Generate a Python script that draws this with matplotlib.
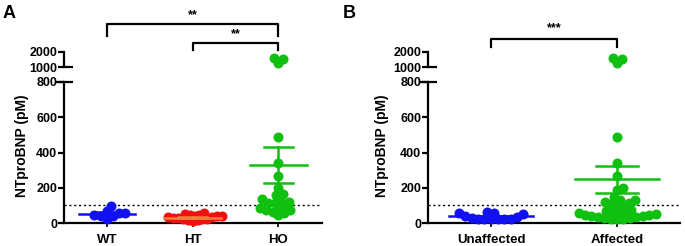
import numpy as np
import matplotlib
matplotlib.use('Agg')
import matplotlib.pyplot as plt
from matplotlib.transforms import blended_transform_factory

plt.rcParams['font.family'] = ['Liberation Sans', 'DejaVu Sans']
plt.rcParams['font.weight'] = 'bold'

# panel A data (NTproBNP, pM)
groups_a = ['WT', 'HT', 'HO']
wt_vals = [96, 68, 58, 55, 45, 40, 38, 25]
ht_vals = [58, 52, 48, 45, 42, 40, 38, 35, 32, 30, 28, 25, 22, 20, 18, 15, 12]
ho_vals = [490, 342, 268, 197, 160, 134, 74, 85, 165, 121, 83, 45, 130, 74,
           115, 58, 64, 113, 100]
ho_high = [1530, 1270, 1600]
mean_a = [52, 30, 329]
sem_a = [8, 4, 100]

# panel B data
groups_b = ['Unaffected', 'Affected']
unaff_vals = [60, 58, 55, 50, 40, 34, 30, 25, 25, 25, 25, 25, 25]
aff_vals = [490, 342, 268, 197, 187, 150, 130, 117, 130, 106, 96, 112, 96,
            75, 70, 60, 55, 50, 45, 45, 40, 35, 30, 30, 25, 25, 20, 60, 55,
            40, 35]
aff_high = [1530, 1270, 1600]
mean_b = [38, 248]
sem_b = [4, 75]

blue = '#1010f0'
red = '#f01010'
green = '#10c010'
orange = '#f08040'

W, H = 685, 246
fig = plt.figure(figsize=(W / 100, H / 100), dpi=100)


def px(x, y, w, h):
    return [x / W, 1 - (y + h) / H, w / W, h / H]


def swarm(ax, xc, vals, d=6.5):
    # simple beeswarm: place points one by one, as near the centre as possible
    vals = np.asarray(vals, float)
    pts = ax.transData.transform(np.column_stack([np.full(len(vals), xc), vals]))
    placed = []
    offs = np.zeros(len(vals))
    for i in np.argsort(vals):
        y = pts[i, 1]
        cands = [0.0]
        for ox, oy in placed:
            dy = abs(oy - y)
            if dy < d:
                dx = np.sqrt(d * d - dy * dy)
                cands += [ox + dx, ox - dx]
        cands.sort(key=abs)
        for c in cands:
            if all((c - ox) ** 2 + (y - oy) ** 2 >= d * d - 1e-6 for ox, oy in placed):
                break
        placed.append((c, y))
        offs[i] = c
    back = ax.transData.inverted().transform(np.column_stack([pts[:, 0] + offs, pts[:, 1]]))
    return back[:, 0]


def make_panel(left, width, xlim, labels):
    low = fig.add_axes(px(left, 82, width, 141))
    up = fig.add_axes(px(left, 52, width, 15))
    for ax in (low, up):
        ax.set_xlim(*xlim)
        ax.spines['top'].set_visible(False)
        ax.spines['right'].set_visible(False)
        ax.spines['left'].set_linewidth(1.6)
        ax.tick_params(axis='y', width=1.6, length=4, labelsize=9, pad=1)
        ax.patch.set_visible(False)
    low.spines['bottom'].set_linewidth(1.6)
    low.set_ylim(0, 800)
    low.set_yticks([0, 200, 400, 600, 800])
    low.set_xticks(range(len(labels)))
    low.set_xticklabels(labels, fontsize=9.5)
    low.tick_params(axis='x', width=1.2, length=3, pad=5)
    low.axhline(100, color='black', lw=1, ls=(0, (1.5, 2)), zorder=1)
    up.set_ylim(1000, 2000)
    up.set_yticks([1000, 2000])
    up.spines['bottom'].set_visible(False)
    up.set_xticks([])
    # axis break caps
    up.plot([0, 0.035], [0, 0], transform=up.transAxes, color='black',
            lw=1.6, clip_on=False, solid_capstyle='butt')
    low.plot([-0.035, 0.035], [1, 1], transform=low.transAxes, color='black',
             lw=1.6, clip_on=False, solid_capstyle='butt')
    return low, up


def dots(ax, xc, vals, color, d=6.5):
    xs = swarm(ax, xc, vals, d)
    ax.plot(xs, vals, 'o', ms=7.2, mew=0, color=color, clip_on=False, zorder=3)


def mean_sem(ax, xc, m, s, color):
    ax.plot([xc - 0.33, xc + 0.33], [m, m], color=color, lw=1.8, zorder=4)
    ax.plot([xc - 0.17, xc + 0.17], [m + s, m + s], color=color, lw=1.8, zorder=4)
    ax.plot([xc - 0.17, xc + 0.17], [m - s, m - s], color=color, lw=1.8, zorder=4)
    ax.plot([xc, xc], [m - s, m + s], color=color, lw=1.8, zorder=4)


def bracket(ax, x1, x2, y_top, y_bot, text, ty):
    tr = blended_transform_factory(ax.transData, fig.transFigure)
    fy = lambda p: 1 - p / H
    ax.plot([x1, x1, x2, x2], [fy(y_bot), fy(y_top), fy(y_top), fy(y_bot)],
            transform=tr, color='black', lw=1.6, clip_on=False)
    ax.text((x1 + x2) / 2, fy(ty), text, transform=tr, ha='center', va='center',
            fontsize=9, fontweight='bold')


# ---- panel A ----
lowA, upA = make_panel(64, 258, (-0.5, 2.51), groups_a)
dots(lowA, 0, wt_vals, blue)
dots(lowA, 1, ht_vals, red, d=5)
dots(lowA, 2, ho_vals, green)
dots(upA, 2, ho_high, green)
mean_sem(lowA, 0, mean_a[0], sem_a[0], blue)
mean_sem(lowA, 1, mean_a[1], sem_a[1], orange)
mean_sem(lowA, 2, mean_a[2], sem_a[2], green)
bracket(lowA, 0, 2, 24, 36, '**', 15)
bracket(lowA, 1, 2, 43, 50, '**', 34)
fig.text(22 / W, 1 - 146 / H, 'NTproBNP (pM)', rotation=90, ha='center',
         va='center', fontsize=10, fontweight='bold')
fig.text(3 / W, 1 - 5 / H, 'A', fontsize=13, fontweight='bold', va='top')

# ---- panel B ----
lowB, upB = make_panel(428, 252, (-0.5, 1.5), groups_b)
dots(lowB, 0, unaff_vals, blue)
dots(lowB, 1, aff_vals, green)
dots(upB, 1, aff_high, green)
mean_sem(lowB, 0, mean_b[0], sem_b[0], blue)
mean_sem(lowB, 1, mean_b[1], sem_b[1], green)
bracket(lowB, 0, 1, 39, 47, '***', 28)
fig.text(382 / W, 1 - 146 / H, 'NTproBNP (pM)', rotation=90, ha='center',
         va='center', fontsize=10, fontweight='bold')
fig.text(343 / W, 1 - 5 / H, 'B', fontsize=13, fontweight='bold', va='top')

fig.savefig('out.png', dpi=100)
